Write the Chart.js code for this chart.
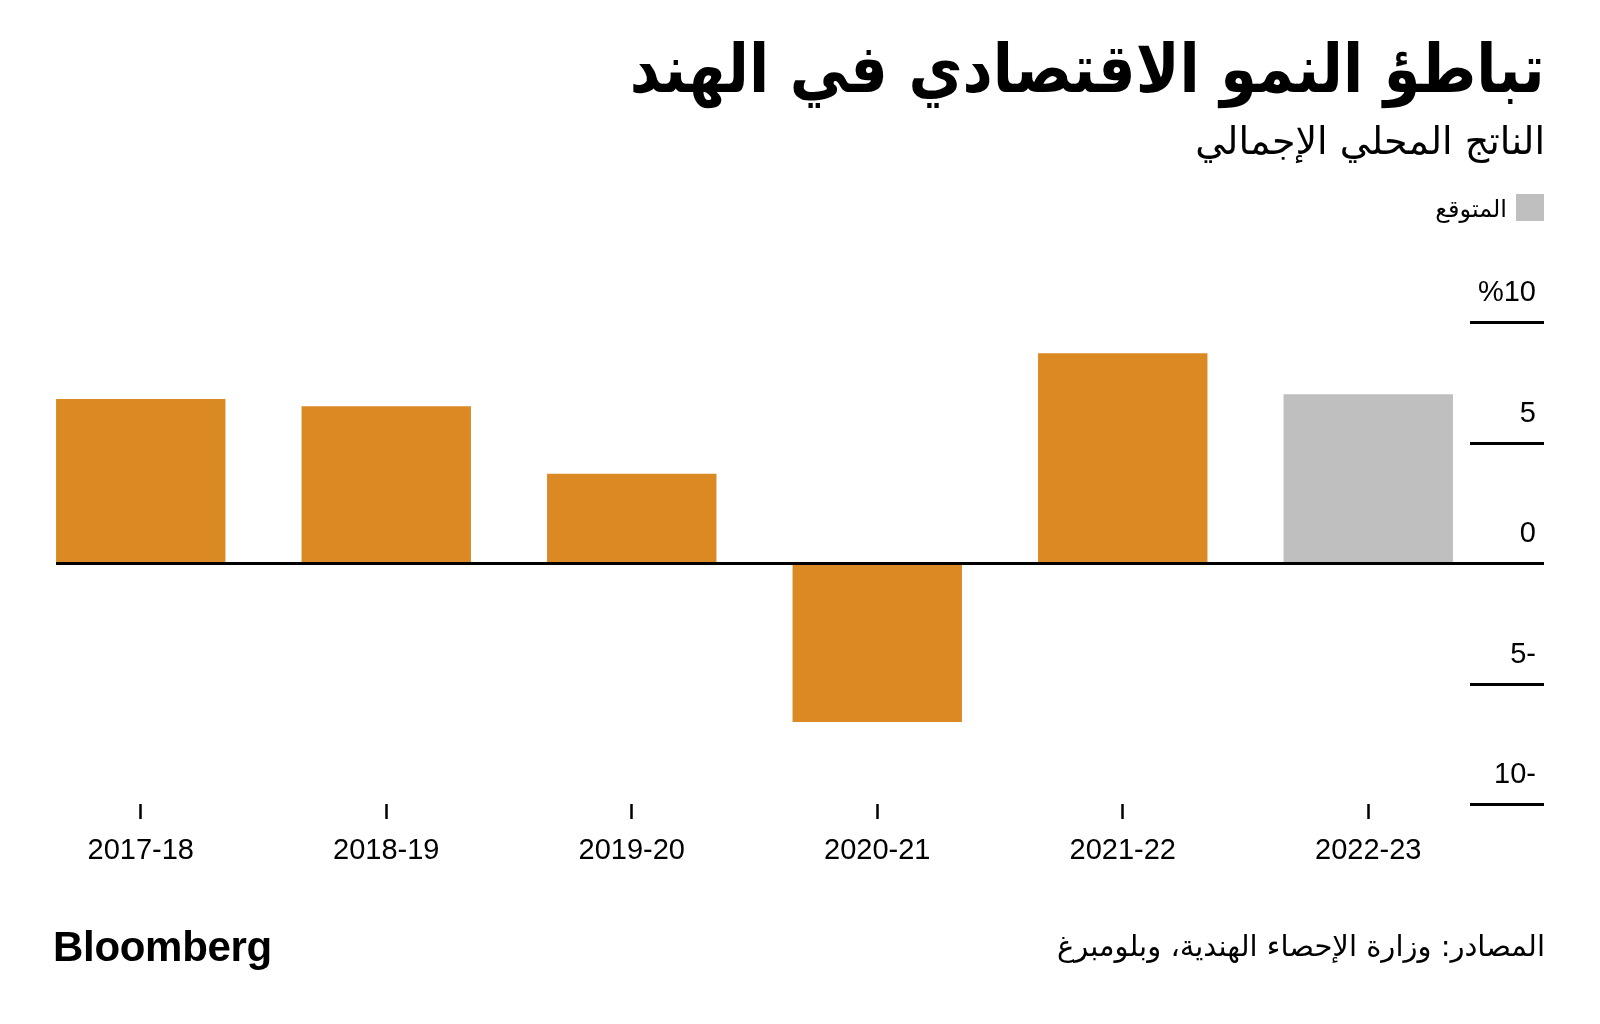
<!DOCTYPE html>
<html lang="ar">
<head>
<meta charset="utf-8">
<script src="https://cdn.jsdelivr.net/npm/chart.js@4/dist/chart.umd.min.js"></script>
<style>
  html, body { margin: 0; padding: 0; background: #fff; }
  body { width: 1600px; height: 1024px; position: relative; overflow: hidden; }
  .txt { position: absolute; white-space: nowrap; color: #000; line-height: 1; }
  .rtl { direction: rtl; }
  #title { right: 55px; top: 30px; font: bold 67px "DejaVu Sans"; transform: scaleX(0.88); transform-origin: right center; }
  #subtitle { right: 55px; top: 119px; font: 38px "DejaVu Sans"; }
  #legendBox { position: absolute; left: 1516px; top: 194px; width: 28px; height: 27px; background: #bfbfbf; }
  #legendText { right: 93px; top: 195px; font: 24px "DejaVu Sans"; }
  #source { right: 55px; top: 929px; font: 29px "DejaVu Sans"; }
  #brand { left: 53px; top: 923px; font: bold 42px "Liberation Sans"; letter-spacing: -0.3px; }
  #chartBox { position: absolute; left: 0; top: 0; width: 1600px; height: 1024px; }
</style>
</head>
<body>
<div id="chartBox"><canvas id="gdpChart"></canvas></div>
<div class="txt rtl" id="title">تباطؤ النمو الاقتصادي في الهند</div>
<div class="txt rtl" id="subtitle">الناتج المحلي الإجمالي</div>
<div id="legendBox"></div>
<div class="txt rtl" id="legendText">المتوقع</div>
<div class="txt rtl" id="source">المصادر: وزارة الإحصاء الهندية، وبلومبرغ</div>
<div class="txt" id="brand">Bloomberg</div>
<script>
// Fiscal years and real GDP growth (%)
const categories = ['2017-18', '2018-19', '2019-20', '2020-21', '2021-22', '2022-23'];
const gdpGrowth = [6.8, 6.5, 3.7, -6.6, 8.7, 7.0];
const isForecast = [false, false, false, false, false, true];

// y axis ticks (labels as printed, Arabic order)
const yTicks = [10, 5, 0, -5, -10];
const yTickLabels = ['%10', '5', '0', '5-', '10-'];

const ORANGE = '#da8923';
const GREY = '#bfbfbf';

// draws the short right-hand gridlines, their labels and the zero line
const axisLinesPlugin = {
    id: 'axisLines',
    afterDatasetsDraw(chart) {
        const ctx = chart.ctx;
        const y = chart.scales.y;
        const meta = chart.getDatasetMeta(0);
        const firstBar = meta.data[0];
        const zeroStart = firstBar.x - firstBar.width / 2;

        ctx.save();
        ctx.strokeStyle = '#000';
        ctx.fillStyle = '#000';
        ctx.lineWidth = 3;
        ctx.font = '29px "Liberation Sans"';
        ctx.textAlign = 'right';
        ctx.textBaseline = 'alphabetic';

        yTicks.forEach((v, i) => {
            const py = Math.round(y.getPixelForValue(v)) + 0.5;
            ctx.beginPath();
            ctx.moveTo(v === 0 ? zeroStart : 1470, py);
            ctx.lineTo(1544, py);
            ctx.stroke();
            ctx.fillText(yTickLabels[i], 1536, py - 22);
        });
        ctx.restore();
    }
};

const ctx = document.getElementById('gdpChart');
new Chart(ctx, {
    type: 'bar',
    data: {
        labels: categories,
        datasets: [{
            data: gdpGrowth,
            backgroundColor: isForecast.map(f => f ? GREY : ORANGE),
            borderWidth: 0,
            barPercentage: 1,
            categoryPercentage: 0.69
        }]
    },
    options: {
        responsive: true,
        maintainAspectRatio: false,
        animation: false,
        layout: {
            padding: { left: 18, right: 109, top: 322, bottom: 120 }
        },
        scales: {
            x: {
                border: { display: false },
                grid: {
                    offset: false,
                    drawOnChartArea: false,
                    drawTicks: true,
                    tickLength: 15,
                    tickWidth: 2.5,
                    tickColor: '#000'
                },
                ticks: {
                    color: '#000',
                    font: { family: '"Liberation Sans"', size: 29 },
                    padding: 15,
                    maxRotation: 0,
                    autoSkip: false
                },
                afterFit: scale => { scale.height = 100; }
            },
            y: {
                display: false,
                min: -10,
                max: 10
            }
        },
        plugins: {
            legend: { display: false },
            tooltip: { enabled: false }
        }
    },
    plugins: [axisLinesPlugin]
});
</script>
</body>
</html>
